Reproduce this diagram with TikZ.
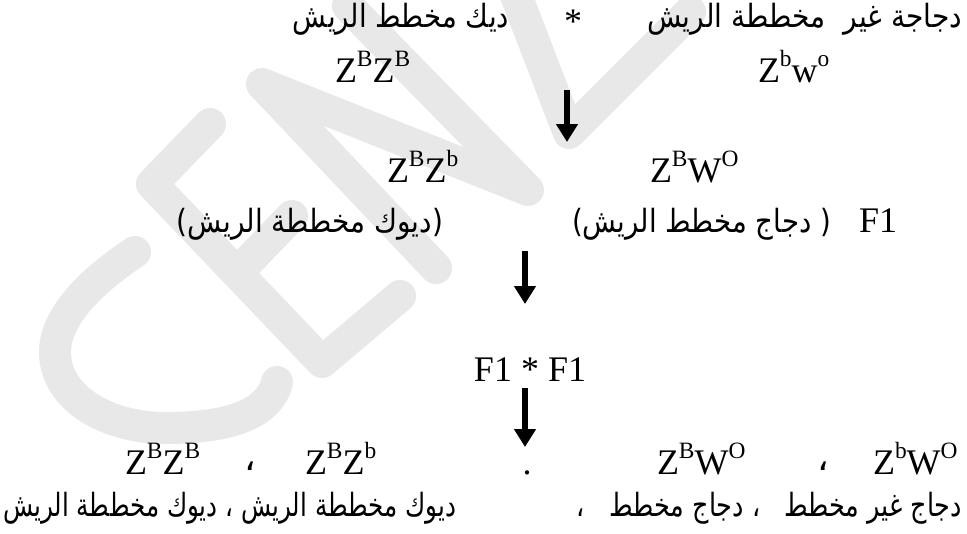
\documentclass[tikz,border=0pt]{standalone}
\usepackage{fontspec}
\usepackage{graphicx}
\setmainfont{Liberation Serif}
\newfontfamily\arabicfont[Script=Arabic]{DejaVu Sans}
\TeXXeTstate=1
\usetikzlibrary{arrows.meta}
\newdimen\pxu \pxu=0.75pt
\newcommand\zsup[1]{\raisebox{16\pxu}{\fontsize{23.4\pxu}{23.4\pxu}\selectfont #1}}
\newcommand\artext[2]{\resizebox{#1\pxu}{\height}{\arabicfont\fontsize{32\pxu}{35\pxu}\selectfont #2}}
\begin{document}
\begin{tikzpicture}[x=0.75pt,y=-0.75pt,
  txt/.style={inner sep=0pt, outer sep=0pt, font=\fontsize{27pt}{30pt}\selectfont},
  arr/.style={line width=4pt, -{Triangle[width=15.75pt,length=13.5pt]}},
  wm/.style={line width=24pt, line cap=round, line join=round, draw=black!9}]
\path[use as bounding box, fill=white] (0,0) rectangle (967,533);

% faint watermark strokes (rotated letters)
\draw[wm] (135,252) .. controls (85,285) and (55,320) .. (55,352)
          .. controls (55,400) and (110,428) .. (165,428)
          .. controls (220,428) and (268,418) .. (277,382);
\draw[wm] (210,124) -- (152,184) -- (322,362) -- (400,296);
\draw[wm] (237,273) -- (292,216);
\draw[wm] (436,268) -- (262,84) -- (528,190) -- (348,6);
\draw[wm] (514,-10) -- (569,133) -- (690,12);

% line 1: parents (phenotypes)
\node[txt, anchor=base east] (p1male) at (509,27) {\artext{216}{\beginR ديك مخطط الريش\endR}};
\node[txt, anchor=base] (star) at (573,33) {*};
\node[txt, anchor=base east] (p1female) at (962,27) {\artext{315}{\beginR دجاجة غير \ مخططة الريش\endR}};

% line 2: parent genotypes
\node[txt, anchor=base west] (g1m) at (335,82) {Z\zsup{B}Z\zsup{B}};
\node[txt, anchor=base west] (g1f) at (758,82) {Z\zsup{b}w\zsup{o}};

\coordinate (a1s) at (567,90);
\coordinate (a1e) at (567,142);
\draw[arr] (a1s) -- (a1e);

% line 3: F1 genotypes
\node[txt, anchor=base west] (g2m) at (387,182) {Z\zsup{B}Z\zsup{b}};
\node[txt, anchor=base west] (g2f) at (650,182) {Z\zsup{B}W\zsup{O}};

% line 4: F1 phenotypes
\node[txt, anchor=base east] (p2m) at (443,232) {\artext{266}{\beginR (ديوك مخططة الريش)\endR}};
\node[txt, anchor=base east] (p2f) at (831,232) {\artext{259}{\beginR ( دجاج مخطط الريش)\endR}};
\node[txt, anchor=base west] (f1) at (859,232) {F1};

\coordinate (a2s) at (525,251);
\coordinate (a2e) at (525,304);
\draw[arr] (a2s) -- (a2e);

\node[txt, anchor=base] (cross) at (530,381) {F1 * F1};

\coordinate (a3s) at (525,388);
\coordinate (a3e) at (525,447);
\draw[arr] (a3s) -- (a3e);

% F2 genotypes
\node[txt, anchor=base west] (g3a) at (125,474) {Z\zsup{B}Z\zsup{B}};
\node[txt, anchor=base] (c1) at (250,470) {\arabicfont ،};
\node[txt, anchor=base west] (g3b) at (305,474) {Z\zsup{B}Z\zsup{b}};
\node[txt, anchor=base] (dot) at (527,474) {.};
\node[txt, anchor=base west] (g3c) at (657,474) {Z\zsup{B}W\zsup{O}};
\node[txt, anchor=base] (c2) at (823,470) {\arabicfont ،};
\node[txt, anchor=base west] (g3d) at (873,474) {Z\zsup{b}W\zsup{O}};

% F2 phenotypes
\node[txt, anchor=base west] (b1) at (3,516) {\artext{453}{\beginR ديوك مخططة الريش ، ديوك مخططة الريش\endR}};
\node[txt, anchor=base east] (b2) at (962,516) {\artext{385}{\beginR دجاج غير مخطط \ \ ، دجاج مخطط \ \ ،\endR}};
\end{tikzpicture}
\end{document}
